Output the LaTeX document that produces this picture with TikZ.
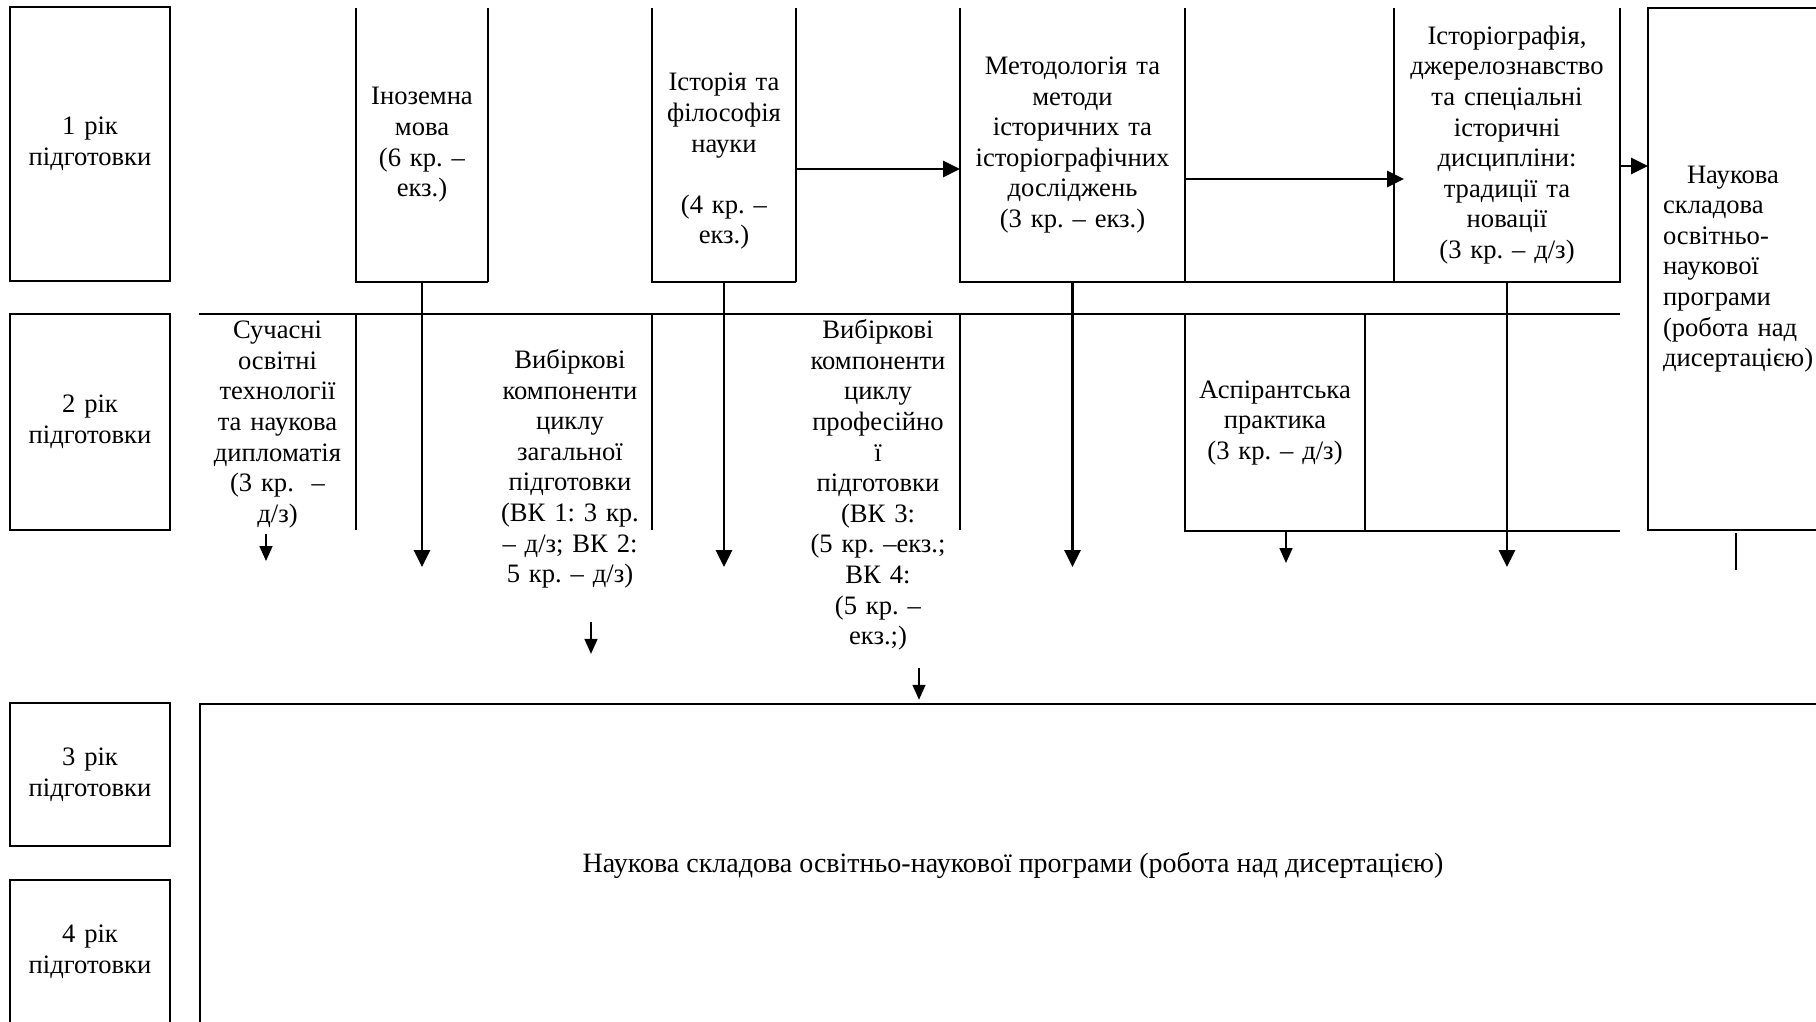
\documentclass[tikz,border=0pt]{standalone}
\usepackage{fontspec}
\setmainfont{Liberation Serif}
\usetikzlibrary{arrows.meta,positioning,calc}
\tikzset{
  hairline/.style={line width=0.6pt},
  boldline/.style={line width=1.3pt},
  yearbox/.style={draw, boldline, inner sep=0pt, outer sep=0pt, minimum width=80pt, text width=76pt, align=center},
  cell/.style={anchor=north west, inner sep=0pt, outer sep=0pt, align=center, text width=#1, minimum width=#1},
  arrow/.style={line width=1.4pt, -{Triangle[length=8.5pt,width=8pt]}},
  tick/.style={line width=0.8pt, -{Triangle[length=7.5pt,width=6.5pt]}},
}

\begin{document}
\begin{tikzpicture}[x=0.5pt,y=-0.5pt,every node/.style={font={\fontsize{13.3}{15.3}\selectfont\frenchspacing}}]
    \useasboundingbox (0,0) rectangle (1816,1022);
    % create the nodes
    \node (yr1)[yearbox, anchor=north west, minimum height=137pt] at (10,7) {1 рік\\підготовки};
    \node (yr2)[yearbox, below=16.5pt of yr1, minimum height=108pt] {2 рік\\підготовки};
    \node (yr3)[yearbox, below=86.5pt of yr2, minimum height=71.5pt] {3 рік\\підготовки};
    \node (yr4)[yearbox, below=17pt of yr3, minimum height=72pt] {4 рік\\підготовки};

    \node (ino)[cell=66pt, minimum height=137pt] at (356,8) {Іноземна\\мова\\(6 кр. –\\екз.)};
    \node (hist)[cell=72pt, minimum height=137pt] at (652,8) {\mbox{}\\[10pt]Історія та\\філософія\\науки\\[15.3pt](4 кр. –\\екз.)};
    \node (meth)[cell=112.5pt, minimum height=137pt] at (960,8) {Методологія та\\методи\\історичних та\\історіографічних\\досліджень\\(3 кр. – екз.)};
    \node (histog)[cell=113pt, minimum height=137pt] at (1394,8) {Історіографія,\\джерелознавство\\та спеціальні\\історичні\\дисципліни:\\традиції та\\новації\\(3 кр. – д/з)};
    \node (nauk)[cell=91pt, text width=76pt, align=left, minimum height=261pt] at (1648,8) {\hspace*{12pt}Наукова\\складова\\освітньо-\\наукової\\програми\\(робота над\\дисертацією)};

    \node (cur)[cell=78.5pt] at (199,321) {Сучасні\\освітні\\технології\\та наукова\\дипломатія\\(3 кр.~ –\\д/з)};
    \node (sel1)[text width=80pt, align=center, inner sep=0pt] at (570,469) {Вибіркові\\компоненти\\циклу\\загальної\\підготовки\\(ВК 1: 3 кр.\\– д/з; ВК 2:\\5 кр. – д/з)};
    \node (sel2)[text width=80pt, align=center, inner sep=0pt] at (878,485) {Вибіркові\\компоненти\\циклу\\професійно\\ї\\підготовки\\(ВК 3:\\(5 кр. –екз.;\\ВК 4:\\(5 кр. –\\екз.;)};
    \node (asp)[cell=90pt, minimum height=108pt] at (1185,315) {Аспірантська\\практика\\(3 кр. – д/з)};

    \node (phd)[draw, boldline, anchor=north west, outer sep=0pt, minimum width=813pt, minimum height=161pt, font={\fontsize{14}{16}\selectfont}] at (200,704) {Наукова складова освітньо-наукової програми (робота над дисертацією)};

    % cell borders
    \draw[hairline] (ino.north west) -- (ino.south west) -- (ino.south east);
    \draw[boldline] (ino.south east) -- (ino.north east);
    \draw[hairline] (hist.north west) -- (hist.south west) -- (hist.south east);
    \draw[boldline] (hist.south east) -- (hist.north east);
    \draw[hairline] (meth.north west) -- (meth.south west) -- (meth.south east);
    \draw[boldline] (meth.north east) -- (meth.south east) -- (histog.south east) -- (histog.north east);
    \draw[hairline] (histog.north west) -- (histog.south west);
    \draw[boldline] (nauk.north east) -- (nauk.north west) -- (nauk.south west) -- (nauk.south east);

    \draw[boldline] (cur.west |- yr2.north) -- (histog.east |- yr2.north);
    \draw[hairline] (cur.east |- yr2.north) -- (cur.east |- yr2.south);
    \draw[hairline] (hist.south west |- yr2.north) -- (hist.south west |- yr2.south);
    \draw[hairline] (meth.south west |- yr2.north) -- (meth.south west |- yr2.south);
    \draw[boldline] (asp.north west) -- (asp.south west) -- (asp.south west -| histog.east);
    \draw[hairline] (asp.north east) -- (asp.south east);

    % connect the nodes
    \coordinate (lvl) at (0,567);
    \draw[arrow] (ino.south) -- (ino.south |- lvl);
    \draw[arrow] (hist.south) -- (hist.south |- lvl);
    \draw[arrow] (meth.south) -- (meth.south |- lvl);
    \draw[arrow] (histog.south) -- (histog.south |- lvl);
    \draw[arrow] ([yshift=-12pt]hist.east) -- ([yshift=-12pt]meth.west);
    \draw[arrow] ([yshift=-17pt]meth.east) -- ([yshift=-17pt,xshift=5pt]histog.west);
    \draw[arrow] ([yshift=-10.5pt]histog.east) -- ([yshift=-10.5pt]histog.east -| nauk.west);

    \draw[tick] ($(cur.south |- yr2.south)+(-11.5,4)$) -- ++(0,27);
    \draw[tick] ($(sel1.south)+(21,33)$) -- ++(0,32);
    \draw[tick] ($(sel2.south)+(41,17)$) -- ++(0,32);
    \draw[tick] ($(asp.south)+(11,0)$) -- ++(0,32);
    \draw[boldline] ($(nauk.south)+(-3,3)$) -- ++(0,37);

\end{tikzpicture}
\end{document}
